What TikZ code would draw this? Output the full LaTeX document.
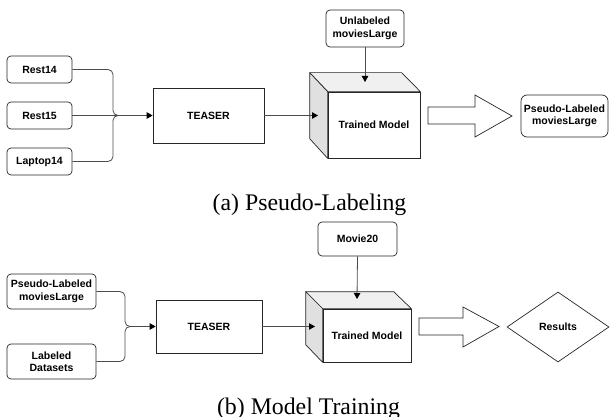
\documentclass[tikz,border=0pt]{standalone}
\usepackage{fontspec}
\setmainfont{Liberation Serif}
\newfontfamily\boxfont{Liberation Sans}
\usetikzlibrary{arrows.meta,shapes.geometric,calc}
\begin{document}
\begin{tikzpicture}[x=1pt,y=-1pt,
  box/.style={draw=black!85, line width=0.7pt, rounded corners=4pt, fill=white, align=center, inner sep=0pt,
    font=\boxfont\bfseries\fontsize{10.5}{12.5}\selectfont},
  sqbox/.style={box, rounded corners=0pt},
  conn/.style={draw=black!70, line width=0.8pt},
  arr/.style={conn, -{Triangle[length=6pt,width=6.5pt,color=black]}},
  cubetop/.style={draw=black!85, line width=0.7pt, fill=black!6, line join=round},
  cubeside/.style={draw=black!85, line width=0.7pt, fill=black!12, line join=round},
  blockarrow/.style={draw=black!85, line width=0.7pt, fill=white, line join=miter},
  captext/.style={font=\fontsize{23.8}{28}\selectfont, inner sep=0pt, anchor=base},
]
\useasboundingbox (0,0) rectangle (610,417);

% ---------- (a) Pseudo-Labeling ----------
\node[box, minimum width=65pt, minimum height=27pt] (r14) at (39.5,69.5) {Rest14};
\node[box, minimum width=65pt, minimum height=27pt] (r15) at (39.5,115.5) {Rest15};
\node[box, minimum width=65pt, minimum height=27pt] (l14) at (39.5,161.5) {Laptop14};
\node[sqbox, minimum width=111pt, minimum height=55pt] (ta) at (208.5,115.5) {TEASER};

\coordinate (ja) at (113,115.5);
\coordinate (jat) at (118,115.5);
\draw[conn, rounded corners=5pt] (r14.east) -| (ja) -- (jat);
\draw[conn, rounded corners=5pt] (l14.east) -| (ja) -- (jat);
\draw[arr] (r15.east) -- (ta.west);

\node[sqbox, minimum width=92pt, minimum height=66pt] (tma) at (374,125) {Trained Model};
\draw[cubetop] (tma.north west) -- ++(-18,-19) -- ++(92,0) -- (tma.north east) -- cycle;
\draw[cubeside] (tma.north west) -- ++(-18,-19) -- ++(0,66) -- (tma.south west) -- cycle;

\node[box, minimum width=78pt, minimum height=37pt] (unl) at (365,28.5) {Unlabeled\\moviesLarge};
\coordinate (tmaleft) at (318,115.5);
\coordinate (tmatop) at (365,82);
\draw[arr] (ta.east) -- (tmaleft);
\draw[arr] (unl.south) -- (tmatop);

\draw[blockarrow] (428,107) -- (475,107) -- (475,95) -- (512,116) -- (475,137) -- (475,124) -- (428,124) -- cycle;

\node[box, rounded corners=6pt, minimum width=87pt, minimum height=42pt] (pla) at (564.5,116) {Pseudo-Labeled\\moviesLarge};

\node[captext] (capa) at (309.5,210.5) {(a) Pseudo-Labeling};

% ---------- (b) Model Training ----------
\node[box, minimum width=89pt, minimum height=35pt] (plb) at (51.5,291.5) {Pseudo-Labeled\\moviesLarge};
\node[box, minimum width=89pt, minimum height=35pt] (lab) at (51.5,361.5) {Labeled\\Datasets};
\node[sqbox, minimum width=106pt, minimum height=53pt] (tb) at (209,326.5) {TEASER};

\coordinate (jb) at (125,326.5);
\coordinate (jbt) at (130,326.5);
\draw[conn, rounded corners=5pt] (plb.east) -| (jb) -- (jbt);
\draw[conn, rounded corners=5pt] (lab.east) -| (jb) -- (jbt);
\draw[arr] (jbt) -- (tb.west);

\node[sqbox, minimum width=88pt, minimum height=53pt] (tmb) at (367,335.5) {Trained Model};
\draw[cubetop] (tmb.north west) -- ++(-17,-17) -- ++(88,0) -- (tmb.north east) -- cycle;
\draw[cubeside] (tmb.north west) -- ++(-17,-17) -- ++(0,53) -- (tmb.south west) -- cycle;

\node[box, minimum width=79pt, minimum height=34pt] (mov) at (357.5,239) {Movie20};
\coordinate (tmbleft) at (315,326.5);
\coordinate (tmbtop) at (357,299);
\draw[arr] (tb.east) -- (tmbleft);
\draw[arr] (mov.south) -- (tmbtop);

\draw[blockarrow] (419,318) -- (463,318) -- (463,307) -- (499,326.5) -- (463,347) -- (463,335) -- (419,335) -- cycle;

\node[draw=black!85, line width=0.7pt, diamond, aspect=1.457, minimum width=102pt, minimum height=70pt, inner sep=0pt,
  font=\boxfont\bfseries\fontsize{10.5}{12.5}\selectfont] (res) at (558,327) {Results};

\node[captext] (capb) at (308.5,414) {(b) Model Training};
\end{tikzpicture}
\end{document}
